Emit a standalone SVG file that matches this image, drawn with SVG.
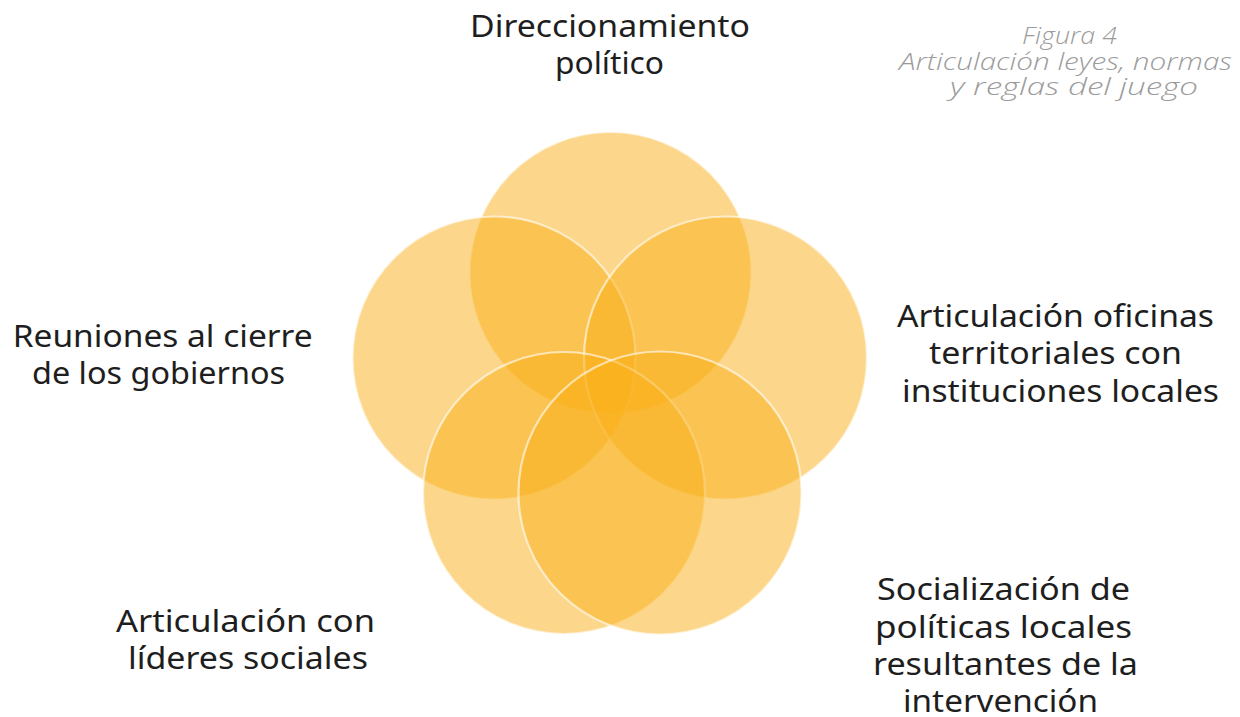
<svg xmlns="http://www.w3.org/2000/svg" width="1240" height="717" viewBox="0 0 1240 717">
<style>
.c{fill:#F9B017;fill-opacity:0.5;stroke:#ffffff;stroke-opacity:0.6;stroke-width:2.2}
.t{font-family:"Noto Sans","Open Sans",sans-serif;font-size:30px;fill:#1e1e1e}
.cap{font-family:"Open Sans","Noto Sans",sans-serif;font-size:23px;font-style:italic;font-weight:300;fill:#9b9b9b}
</style>
<rect width="1240" height="717" fill="#ffffff"/>
<g id="circles">
<g id="n-top"><circle class="c" cx="610.5" cy="273" r="141"/></g>
<g id="n-left"><circle class="c" cx="494" cy="358" r="141.5"/></g>
<g id="n-right"><circle class="c" cx="725.5" cy="358" r="141.5"/></g>
<g id="n-bottom-left"><circle class="c" cx="564" cy="493" r="141"/></g>
<g id="n-bottom-right"><circle class="c" cx="660" cy="493" r="141.5"/></g>
</g>
<g id="connectors"></g>
<g id="label-top">
<text class="t" x="470" y="36.7" textLength="280" lengthAdjust="spacingAndGlyphs">Direccionamiento</text>
<text class="t" x="555" y="74.4" textLength="109" lengthAdjust="spacingAndGlyphs">político</text>
</g>
<g id="label-left">
<text class="t" x="12.7" y="346.7" textLength="300" lengthAdjust="spacingAndGlyphs">Reuniones al cierre</text>
<text class="t" x="32" y="384.4" textLength="253" lengthAdjust="spacingAndGlyphs">de los gobiernos</text>
</g>
<g id="label-right">
<text class="t" x="897" y="326.7" textLength="317" lengthAdjust="spacingAndGlyphs">Articulación oficinas</text>
<text class="t" x="929" y="364.4" textLength="253" lengthAdjust="spacingAndGlyphs">territoriales con</text>
<text class="t" x="902" y="402" textLength="317" lengthAdjust="spacingAndGlyphs">instituciones locales</text>
</g>
<g id="label-bottom-left">
<text class="t" x="116" y="631.7" textLength="259" lengthAdjust="spacingAndGlyphs">Articulación con</text>
<text class="t" x="128" y="669.4" textLength="240" lengthAdjust="spacingAndGlyphs">líderes sociales</text>
</g>
<g id="label-bottom-right">
<text class="t" x="877" y="600" textLength="253" lengthAdjust="spacingAndGlyphs">Socialización de</text>
<text class="t" x="875" y="637.7" textLength="257" lengthAdjust="spacingAndGlyphs">políticas locales</text>
<text class="t" x="873" y="675.4" textLength="265" lengthAdjust="spacingAndGlyphs">resultantes de la</text>
<text class="t" x="903" y="711.5" textLength="195" lengthAdjust="spacingAndGlyphs">intervención</text>
</g>
<g id="caption">
<text class="cap" x="1022" y="44" textLength="95" lengthAdjust="spacingAndGlyphs">Figura 4</text>
<text class="cap" x="899" y="69.5" textLength="333" lengthAdjust="spacingAndGlyphs">Articulación leyes, normas</text>
<text class="cap" x="950" y="95" textLength="248" lengthAdjust="spacingAndGlyphs">y reglas del juego</text>
</g>
</svg>
